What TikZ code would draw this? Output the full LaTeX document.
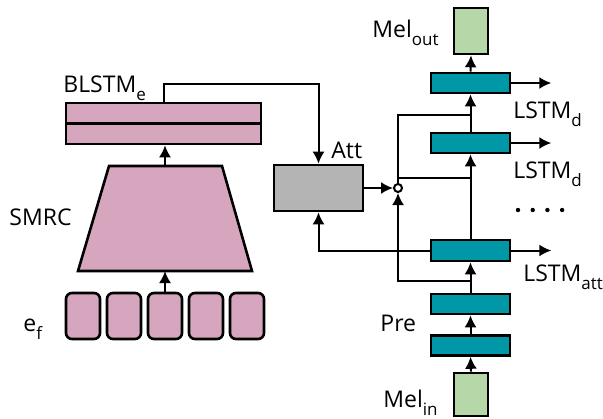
\documentclass[tikz,border=0pt]{standalone}
\usepackage{fontspec}
\setmainfont{Open Sans}
\usetikzlibrary{arrows.meta}
\definecolor{smrcpink}{RGB}{214,166,190}
\definecolor{lstmteal}{RGB}{0,151,167}
\definecolor{melgreen}{RGB}{182,215,168}
\definecolor{attgray}{RGB}{180,180,180}
\newcommand{\lsub}[1]{\raisebox{-4pt}{\fontsize{8.5}{9}\selectfont #1}}
\tikzset{
  every node/.style={font=\fontsize{11.5}{13}\selectfont},
}
\tikzstyle{block}=[draw,line width=1.3pt,inner sep=0pt]
\tikzstyle{pinkbox}=[block,fill=smrcpink]
\tikzstyle{lstm}=[block,fill=lstmteal,minimum width=39.5pt,minimum height=10pt]
\tikzstyle{mel}=[block,fill=melgreen,minimum width=17pt,minimum height=23pt]
\tikzstyle{conn}=[line width=1pt]
\tikzstyle{flow}=[conn,-{Latex[length=6pt,width=6pt]}]
\tikzstyle{lbl}=[anchor=base west,inner sep=0pt]

\begin{document}
\begin{tikzpicture}[x=0.5pt,y=-0.5pt]
    \useasboundingbox (0,0) rectangle (603,418);
    % encoder side
    \node[pinkbox,minimum width=97.5pt,minimum height=20.5pt] (blstm) at (163.5,123.5) {};
    \draw[line width=1.3pt] (blstm.west) -- (blstm.east);
    \draw[line width=1.3pt,fill=smrcpink,line join=miter] (78,271) -- (109,166) -- (222,166) -- (252,271) -- cycle;
    \coordinate (smrcn) at (165,166);
    \coordinate (smrcs) at (165,271);
    \foreach \i in {0,...,4}
      \node[pinkbox,rounded corners=3pt,minimum width=17pt,minimum height=23pt] (ef\i) at (83+41*\i,316) {};
    \node[block,fill=attgray,minimum width=44.5pt,minimum height=23pt] (att) at (318.5,188) {};
    \node[draw,circle,line width=1pt,fill=white,inner sep=0pt,minimum size=4pt] (mix) at (398,188) {};
    % decoder side
    \node[mel,minimum height=21.5pt] (melin) at (471,394.5) {};
    \node[lstm] (pre1) at (470.5,345.5) {};
    \node[lstm] (pre2) at (470.5,304) {};
    \node[lstm,minimum height=10.5pt] (lstmatt) at (470.5,250.5) {};
    \node[lstm] (lstmd2) at (470.5,143) {};
    \node[lstm] (lstmd1) at (470.5,83) {};
    \node[mel] (melout) at (471,31) {};
    \coordinate (prej) at ([yshift=6pt]pre2.north);
    \coordinate (mixj) at ([yshift=-12pt]lstmd2.south);
    \coordinate (skipj) at ([yshift=8.5pt]lstmd2.north);
    % connectors
    \draw[flow] (ef2.north) -- (smrcs);
    \draw[flow] (smrcn) -- (smrcn |- blstm.south);
    \draw[flow] (blstm.north) -- ++(0,-18) -| (att.north);
    \draw[flow] (att.east) -- (mix.west);
    \draw[flow] (melin.north) -- (pre1.south);
    \draw[flow] (pre1.north) -- (pre2.south);
    \draw[flow] (pre2.north) -- (lstmatt.south);
    \draw[flow] (prej) -| (mix.south);
    \draw[flow] (lstmatt.west) -| (att.south);
    \draw[flow] (lstmatt.north) -- (lstmd2.south);
    \draw[flow] (lstmd2.north) -- (lstmd1.south);
    \draw[flow] (lstmd1.north) -- (melout.south);
    \draw[conn] (mix.north) |- (skipj);
    \draw[conn] (mix.north |- mixj) -- (mixj);
    \foreach \n in {lstmd1,lstmd2,lstmatt}
      \draw[flow] (\n.east) -- ++(40,0);
    % labels
    \node[lbl] (blstmlbl) at (63,92.7) {BLSTM\lsub{e}};
    \node[lbl] (smrclbl) at (9,225) {SMRC};
    \node[lbl] (eflbl) at (23,331.7) {e\lsub{f}};
    \node[lbl] (attlbl) at (331,158) {Att};
    \node[lbl] (meloutlbl) at (372,37.3) {Mel\lsub{out}};
    \node[lbl] (lstmd1lbl) at (513,118.3) {LSTM\lsub{d}};
    \node[lbl] (lstmd2lbl) at (513,178) {LSTM\lsub{d}};
    \node[lbl] (lstmattlbl) at (523,281.7) {LSTM\lsub{att}};
    \node[lbl] (prelbl) at (380,331) {Pre};
    \node[lbl] (melinlbl) at (383,407.7) {Mel\lsub{in}};
    \foreach \x in {0,...,3}
      \fill (518+14.7*\x,210) circle (2.2);
\end{tikzpicture}
\end{document}
